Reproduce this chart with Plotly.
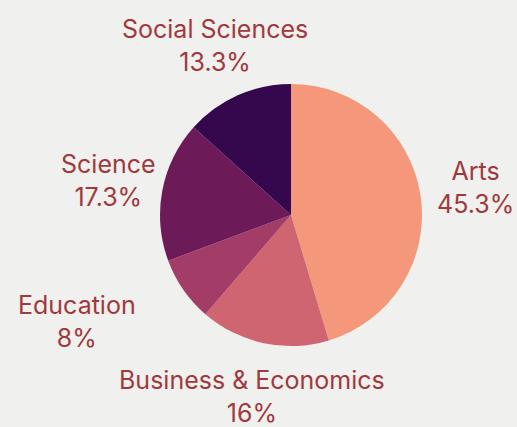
import math
import plotly.graph_objects as go

categories = ["Arts", "Business & Economics", "Education", "Science", "Social Sciences"]
counts = [34, 12, 6, 13, 10]
colors = ["#f4977a", "#cf6570", "#a33c67", "#6d1a59", "#35074c"]
label_anchor = ["center", "center", "right", "center", "center"]

W, H = 517, 427
cx, cy, r = 291, 215, 131
label_r = 1.42 * r
BG = "#f0f0ee"
TXT = "#a0393d"

fig = go.Figure(go.Pie(
    labels=categories,
    values=counts,
    sort=False,
    direction="clockwise",
    rotation=0,
    marker=dict(colors=colors, line=dict(width=0)),
    textinfo="none",
    showlegend=False,
    hoverinfo="label+percent",
    domain=dict(x=[(cx - r) / W, (cx + r) / W], y=[(H - cy - r) / H, (H - cy + r) / H]),
))


def fmt_pct(v):
    s = f"{v:.3g}"
    if "." in s:
        s = s.rstrip("0").rstrip(".")
    return s + "%"


total = sum(counts)
cum = 0
annotations = []
for name, v, anch in zip(categories, counts, label_anchor):
    mid = (cum + v / 2) / total * 2 * math.pi
    cum += v
    x = cx + label_r * math.sin(mid)
    y = cy - label_r * math.cos(mid)
    annotations.append(dict(
        x=x / W, y=1 - y / H, xref="paper", yref="paper",
        text=f"{name}<br>{fmt_pct(100 * v / total)}",
        showarrow=False, xanchor=anch, yanchor="middle", align="center",
        font=dict(family="Inter", size=25, color=TXT),
    ))

fig.update_layout(
    width=W, height=H,
    margin=dict(l=0, r=0, t=0, b=0),
    paper_bgcolor=BG,
    plot_bgcolor=BG,
    annotations=annotations,
)
fig.write_html(
    "out.html",
    config={"displayModeBar": False},
    post_script="document.body.style.margin='0';document.body.style.background='%s';" % BG,
)
